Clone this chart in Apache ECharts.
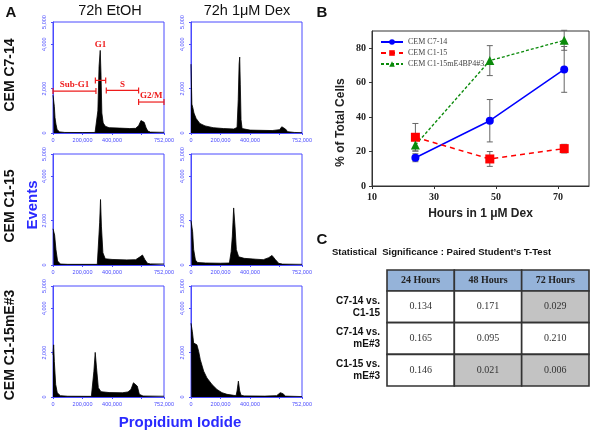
<!DOCTYPE html>
<html>
<head>
<meta charset="utf-8">
<script src="https://cdn.jsdelivr.net/npm/echarts@6/dist/echarts.min.js"></script>
<style>
  html, body { margin: 0; padding: 0; background: #fff; }
  #chart { width: 600px; height: 435px; }
</style>
</head>
<body>
<div id="chart"></div>
<script>
// flow histograms, [PI value, events]
const histC714Etoh = [[0,1700],[4500,1700],[9000,1200],[13500,700],[20000,400],[28000,150],[45000,50],[80000,25],[200000,20],[285000,25],
  [296000,60],[304000,1000],[312000,3000],[320000,3720],[325000,2700],[331000,900],[340000,450],[355000,300],[380000,240],[450000,220],
  [520000,200],[560000,210],[580000,330],[596000,560],[607000,650],[618000,480],[630000,250],[642000,90],[660000,40],[752000,30]];
const histC714Dex = [[0,3100],[3000,3100],[6000,1300],[12000,1150],[20000,900],[35000,650],[60000,430],[95000,320],[150000,240],[220000,200],
  [290000,180],[312000,250],[320000,1500],[326000,3100],[330000,3420],[334000,2200],[339000,600],[346000,200],[400000,130],[550000,110],
  [600000,150],[615000,280],[626000,300],[640000,180],[655000,60],[700000,25],[752000,15]];
const histC115Etoh = [[0,1630],[4500,1630],[11000,1350],[20000,700],[31000,180],[50000,45],[100000,30],[300000,30],
  [309000,100],[316000,1900],[322000,2950],[328000,1750],[338000,550],[354000,280],[400000,250],[500000,230],[560000,240],[590000,370],
  [606000,450],[622000,250],[640000,75],[660000,50],[752000,45]];
const histC115Dex = [[0,2000],[4500,1950],[11000,1500],[18000,700],[30000,220],[45000,110],[100000,90],[200000,80],[260000,90],[266000,100],
  [272000,600],[280000,1300],[289000,2570],[298000,1750],[307000,700],[323000,370],[360000,300],[440000,260],[490000,240],[526000,330],
  [549000,430],[571000,250],[594000,75],[620000,40],[752000,30]];
const histMe3Etoh = [[0,1900],[4500,2350],[9000,1600],[18000,570],[29000,190],[50000,60],[100000,35],[260000,30],
  [266000,120],[277000,1160],[286000,2010],[295000,1310],[307000,420],[325000,240],[380000,200],[470000,190],[508000,230],[528000,340],
  [545000,640],[558000,730],[571000,490],[585000,120],[610000,45],[752000,35]];
const histMe3Dex = [[0,3320],[2500,3320],[9000,2950],[18000,2430],[40000,2350],[52000,2050],[63000,1680],[86000,1160],[108000,860],[142000,565],
  [176000,340],[210000,195],[244000,120],[289000,75],[305000,60],[312000,270],[321000,715],[330000,270],[339000,80],[360000,50],
  [500000,40],[580000,60],[605000,195],[623000,150],[640000,40],[752000,20]];
const histData = [histC714Etoh, histC714Dex, histC115Etoh, histC115Dex, histMe3Etoh, histMe3Dex];

// cell cycle gates on the first histogram: [from, to, level]
const phaseNames = ['Sub-G1', 'G1', 'S', 'G2/M'];
const phaseGates = [[0,291000,1890],[287000,357000,2370],[361000,580000,1920],[580000,752000,1395]];

const piLabelValues = [0, 200000, 400000, 752000];
const piTickValues = [0, 200000, 400000, 600000, 752000];
const eventValues = [0, 2000, 4000, 5000];

// panel B
const hours = [24, 48, 72];
const c714Mean = [16.4, 37.9, 67.7];
const c714Err = [2.3, 12.3, 13.3];
const c115Mean = [28.3, 15.7, 21.7];
const c115Err = [8, 4.3, 2.5];
const me3Mean = [23.8, 72.8, 84.6];
const me3Err = [3.5, 8.7, 5.8];
const hourTicks = [10, 30, 50, 70];
const pctTicks = [0, 20, 40, 60, 80];

// panel C
const hourLabels = ['24 Hours', '48 Hours', '72 Hours'];
const pairLabels = ['C7-14 vs.\nC1-15', 'C7-14 vs.\nmE#3', 'C1-15 vs.\nmE#3'];
const pValues = [[0.134, 0.171, 0.029], [0.165, 0.095, 0.210], [0.146, 0.021, 0.006]];

const SANS = '"Liberation Sans", Arial, sans-serif';
const SERIF = '"Liberation Serif", "Times New Roman", serif';
const BLUE = '#4a4aff';
const RED = '#ee1c1c';

const withCommas = v => String(v).replace(/\B(?=(\d{3})+(?!\d))/g, ',');

const grids = [], xAxes = [], yAxes = [], series = [];

// histograms
const histCells = [[53, 22], [191, 22], [53, 154], [191, 154], [53, 286], [191, 286]];
histCells.forEach(([l, t], i) => {
  grids.push({ left: l, top: t, width: 111, height: 111, show: true, borderColor: BLUE, borderWidth: 1 });
  xAxes.push({
    gridIndex: i, type: 'value', min: 0, max: 752000,
    axisLine: { show: true, lineStyle: { color: BLUE, width: 1 } },
    axisTick: { show: true, customValues: piTickValues, length: 2, lineStyle: { color: BLUE } },
    axisLabel: { customValues: piLabelValues, formatter: withCommas, fontSize: 5.5, color: BLUE, margin: 4, fontFamily: SANS },
    splitLine: { show: false }
  });
  yAxes.push({
    gridIndex: i, type: 'value', min: 0, max: 5000,
    axisLine: { show: true, lineStyle: { color: BLUE, width: 1 } },
    axisTick: { show: true, customValues: eventValues, length: 2, lineStyle: { color: BLUE } },
    axisLabel: { customValues: eventValues, rotate: 90, formatter: withCommas, fontSize: 5.5, color: BLUE, margin: 6, fontFamily: SANS },
    splitLine: { show: false }
  });
  series.push({
    type: 'line', xAxisIndex: i, yAxisIndex: i, data: histData[i], symbol: 'none', silent: true,
    lineStyle: { color: '#000', width: 0.8 }, areaStyle: { color: '#000', opacity: 1 }
  });
});

series.push({
  type: 'custom', xAxisIndex: 0, yAxisIndex: 0, data: phaseGates, silent: true, z: 5,
  encode: { x: [0, 1], y: 2 },
  renderItem: (params, api) => {
    const x0 = api.value(0), x1 = api.value(1), lvl = api.value(2);
    const a = api.coord([x0, lvl]);
    const b = api.coord([x1, lvl]);
    // label sits above the gate, or above the peak if the peak is higher
    const inside = histC714Etoh.filter(p => p[0] >= x0 && p[0] <= x1).map(p => p[1]);
    const top = Math.max(lvl, ...inside);
    const ly = api.coord([x0, top])[1] - 1.5;
    const st = { stroke: RED, lineWidth: 1.2 };
    return {
      type: 'group',
      children: [
        { type: 'line', shape: { x1: a[0], y1: a[1], x2: b[0], y2: b[1] }, style: st },
        { type: 'line', shape: { x1: a[0], y1: a[1] - 3, x2: a[0], y2: a[1] + 3 }, style: st },
        { type: 'line', shape: { x1: b[0], y1: b[1] - 3, x2: b[0], y2: b[1] + 3 }, style: st },
        { type: 'text', x: (a[0] + b[0]) / 2, y: ly,
          style: { text: phaseNames[params.dataIndex], fill: RED, font: 'bold 9px ' + SERIF, align: 'center', verticalAlign: 'bottom' } }
      ]
    };
  }
});

// panel B
grids.push({ left: 372, top: 31, width: 217, height: 155, show: true, borderColor: '#333', borderWidth: 1 });
xAxes.push({
  gridIndex: 6, type: 'value', min: 10, max: 80,
  axisLine: { show: true, lineStyle: { color: '#333' } },
  axisTick: { show: true, customValues: hourTicks, length: 3, lineStyle: { color: '#333' } },
  axisLabel: { customValues: hourTicks, fontFamily: SERIF, fontWeight: 'bold', fontSize: 10, color: '#222', margin: 6 },
  splitLine: { show: false },
  name: 'Hours in 1 μM Dex', nameLocation: 'middle', nameGap: 22,
  nameTextStyle: { fontFamily: SANS, fontWeight: 'bold', fontSize: 12, color: '#222' }
});
yAxes.push({
  gridIndex: 6, type: 'value', min: 0, max: 90,
  axisLine: { show: true, lineStyle: { color: '#333' } },
  axisTick: { show: true, customValues: pctTicks, length: 3, lineStyle: { color: '#333' } },
  axisLabel: { customValues: pctTicks, fontFamily: SERIF, fontWeight: 'bold', fontSize: 10, color: '#222', margin: 6 },
  splitLine: { show: false },
  name: '% of Total Cells', nameLocation: 'middle', nameGap: 25,
  nameTextStyle: { fontFamily: SANS, fontWeight: 'bold', fontSize: 12, color: '#222', padding: [0, 0, 0, -28] }
});

function errorBars(mean, err) {
  return {
    type: 'custom', xAxisIndex: 6, yAxisIndex: 6, silent: true, z: 1,
    encode: { x: 0, y: [1, 2] },
    data: hours.map((h, i) => [h, mean[i] - err[i], mean[i] + err[i]]),
    renderItem: (params, api) => {
      const lo = api.coord([api.value(0), api.value(1)]);
      const hi = api.coord([api.value(0), api.value(2)]);
      const st = { stroke: '#666', lineWidth: 1 };
      return {
        type: 'group',
        children: [
          { type: 'line', shape: { x1: lo[0], y1: lo[1], x2: hi[0], y2: hi[1] }, style: st },
          { type: 'line', shape: { x1: lo[0] - 3, y1: lo[1], x2: lo[0] + 3, y2: lo[1] }, style: st },
          { type: 'line', shape: { x1: hi[0] - 3, y1: hi[1], x2: hi[0] + 3, y2: hi[1] }, style: st }
        ]
      };
    }
  };
}
series.push(errorBars(c714Mean, c714Err), errorBars(c115Mean, c115Err), errorBars(me3Mean, me3Err));

series.push({
  name: 'CEM C7-14', type: 'line', xAxisIndex: 6, yAxisIndex: 6, z: 3,
  data: hours.map((h, i) => [h, c714Mean[i]]),
  symbol: 'circle', symbolSize: 8,
  lineStyle: { color: '#0000ff', width: 1.5 }, itemStyle: { color: '#0000ff' }
}, {
  name: 'CEM C1-15', type: 'line', xAxisIndex: 6, yAxisIndex: 6, z: 3,
  data: hours.map((h, i) => [h, c115Mean[i]]),
  symbol: 'rect', symbolSize: 9,
  lineStyle: { color: '#ff0000', width: 1.5, type: [5, 4] }, itemStyle: { color: '#ff0000' }
}, {
  name: 'CEM C1-15mE4BP4#3', type: 'line', xAxisIndex: 6, yAxisIndex: 6, z: 3,
  data: hours.map((h, i) => [h, me3Mean[i]]),
  symbol: 'triangle', symbolSize: 9,
  lineStyle: { color: '#0a8a0a', width: 1.3, type: [3, 2] }, itemStyle: { color: '#0a8a0a' }
});

// panel C table
grids.push({ left: 387, top: 270, width: 202, height: 21 });
grids.push({ left: 387, top: 291, width: 202, height: 95 });
xAxes.push({ gridIndex: 7, type: 'category', data: hourLabels, show: false });
yAxes.push({ gridIndex: 7, type: 'category', data: ['header'], show: false });
xAxes.push({ gridIndex: 8, type: 'category', data: hourLabels, show: false });
yAxes.push({
  gridIndex: 8, type: 'category', data: pairLabels, inverse: true,
  axisLine: { show: false }, axisTick: { show: false }, splitLine: { show: false },
  axisLabel: { fontFamily: SANS, fontWeight: 'bold', fontSize: 10, color: '#111', margin: 7, lineHeight: 12, align: 'right' }
});

function cellRect(api, fill) {
  const c = api.coord([api.value(0), api.value(1)]);
  const s = api.size([1, 1]);
  return { type: 'rect', shape: { x: c[0] - s[0] / 2, y: c[1] - s[1] / 2, width: s[0], height: s[1] },
    style: { fill: fill, stroke: '#333', lineWidth: 1.6 } };
}

series.push({
  type: 'custom', xAxisIndex: 7, yAxisIndex: 7, silent: true,
  data: hourLabels.map((h, i) => [i, 0]),
  renderItem: (params, api) => {
    const c = api.coord([api.value(0), api.value(1)]);
    return { type: 'group', children: [
      cellRect(api, '#95b3d9'),
      { type: 'text', x: c[0], y: c[1], style: { text: hourLabels[params.dataIndex], fill: '#222', font: 'bold 10px ' + SERIF, align: 'center', verticalAlign: 'middle' } }
    ] };
  }
});

const pCells = [];
pValues.forEach((row, r) => row.forEach((p, c) => pCells.push([c, r, p])));
series.push({
  type: 'custom', xAxisIndex: 8, yAxisIndex: 8, silent: true,
  data: pCells,
  renderItem: (params, api) => {
    const c = api.coord([api.value(0), api.value(1)]);
    const p = api.value(2);
    return { type: 'group', children: [
      cellRect(api, p < 0.05 ? '#c3c3c3' : '#ffffff'),
      { type: 'text', x: c[0], y: c[1], style: { text: p.toFixed(3), fill: '#333', font: '10px ' + SERIF, align: 'center', verticalAlign: 'middle' } }
    ] };
  }
});

const vText = (x, y, text, font, fill) => ({
  type: 'text', x: x, y: y, rotation: Math.PI / 2, silent: true,
  style: { text: text, font: font, fill: fill || '#111', align: 'center', verticalAlign: 'middle' }
});
const hText = (x, y, text, font, fill, align) => ({
  type: 'text', x: x, y: y, silent: true,
  style: { text: text, font: font, fill: fill || '#111', align: align || 'center', verticalAlign: 'middle' }
});

const chart = echarts.init(document.getElementById('chart'), null, { renderer: 'canvas' });
chart.setOption({
  animation: false,
  backgroundColor: '#fff',
  grid: grids,
  xAxis: xAxes,
  yAxis: yAxes,
  series: series,
  legend: {
    left: 375, top: 33, orient: 'vertical', itemGap: 3, itemWidth: 22, itemHeight: 7,
    textStyle: { fontFamily: SERIF, fontSize: 8, color: '#444' },
    data: ['CEM C7-14', 'CEM C1-15', 'CEM C1-15mE4BP4#3']
  },
  graphic: [
    hText(11, 13, 'A', 'bold 15px ' + SANS),
    hText(110, 11, '72h EtOH', '14.5px ' + SANS),
    hText(247, 11, '72h 1μM Dex', '14.5px ' + SANS),
    hText(322, 13, 'B', 'bold 15px ' + SANS),
    hText(322, 240, 'C', 'bold 15px ' + SANS),
    hText(332, 252, 'Statistical  Significance : Paired Student\u2019s T-Test', 'bold 9.5px ' + SANS, '#111', 'left'),
    vText(10, 75, 'CEM C7-14', 'bold 14px ' + SANS),
    vText(10, 206, 'CEM C1-15', 'bold 14px ' + SANS),
    vText(10, 345, 'CEM C1-15mE#3', 'bold 14px ' + SANS),
    vText(33, 205, 'Events', 'bold 15px ' + SANS, '#2a2aff'),
    hText(180, 423, 'Propidium Iodide', 'bold 15px ' + SANS, '#2a2aff')
  ]
});
</script>
</body>
</html>
